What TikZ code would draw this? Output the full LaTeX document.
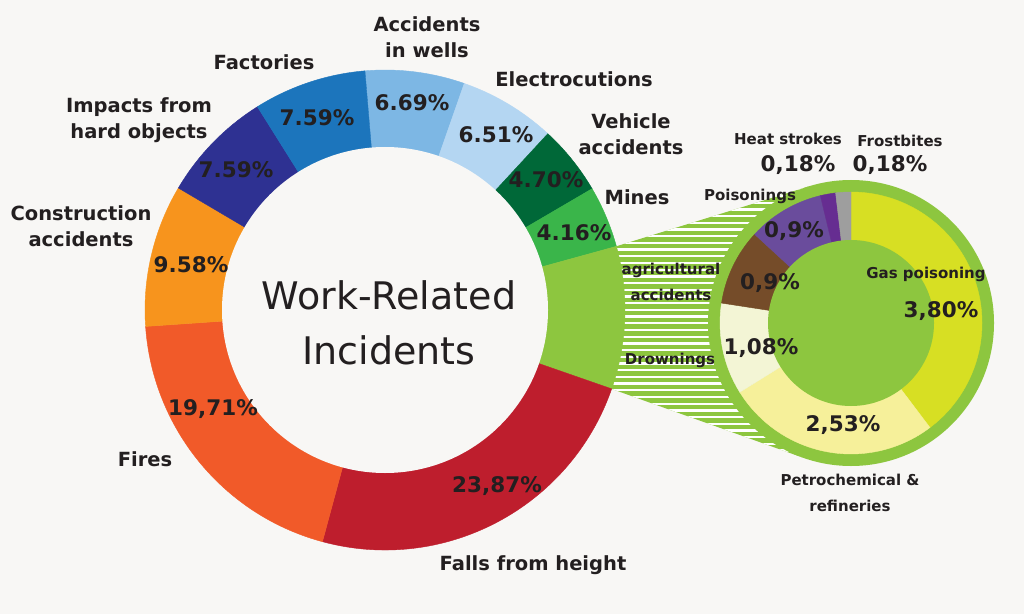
\documentclass[tikz,border=0pt]{standalone}
\usepackage{fontspec}
\setmainfont{DejaVu Sans}
\definecolor{bg}{HTML}{F8F7F5}
\definecolor{txt}{HTML}{231F20}
\definecolor{cfalls}{HTML}{BE1E2D}
\definecolor{cfires}{HTML}{F15A29}
\definecolor{cconstr}{HTML}{F7941D}
\definecolor{cimpact}{HTML}{2E3192}
\definecolor{cfactory}{HTML}{1C75BC}
\definecolor{cwells}{HTML}{7DB7E4}
\definecolor{celectro}{HTML}{B4D6F2}
\definecolor{cvehicle}{HTML}{006838}
\definecolor{cmines}{HTML}{3AB54A}
\definecolor{cother}{HTML}{8DC63F}
\definecolor{cgas}{HTML}{D7DF23}
\definecolor{cpetro}{HTML}{F6F09A}
\definecolor{cdrown}{HTML}{F3F5D5}
\definecolor{cagri}{HTML}{754C29}
\definecolor{cpois}{HTML}{6A4C9C}
\definecolor{cheat}{HTML}{662D91}
\definecolor{cfrost}{HTML}{9E9E9E}
\newcommand\wedgeM[3]{\fill[#1, draw=#1, line width=0.4pt] (M) -- ++(#2:240) arc[start angle=#2, end angle=#3, radius=240] -- cycle;}
\newcommand\wedgeS[3]{\fill[#1, draw=#1, line width=0.4pt] (S) -- ++(#2:131) arc[start angle=#2, end angle=#3, radius=131] -- cycle;}
\begin{document}
\begin{tikzpicture}[x=1pt,y=1pt,
  lab/.style={font=\bfseries\fontsize{19.5}{26}\selectfont, text=txt, align=center, inner sep=0pt},
  slab/.style={font=\bfseries\fontsize{15}{26}\selectfont, text=txt, align=center, inner sep=0pt},
  pct/.style={font=\bfseries\fontsize{21.5}{26}\selectfont, text=txt, inner sep=0pt},
  title/.style={font=\fontsize{38}{55}\selectfont, text=txt, align=center, inner sep=0pt}]
\useasboundingbox (0,0) rectangle (1024,614);
\fill[bg] (0,0) rectangle (1024,614);
\coordinate (M) at (385,304);
\coordinate (S) at (851,291);
% hatched connector
\coordinate (P) at (616.38,367.73);
\coordinate (T1) at (808.5,427.5);
\coordinate (T2) at (802.6,156.45);
\coordinate (Q) at (611.65,225.08);
\fill[cother] (P) -- (T1) -- (S) -- (T2) -- (Q) -- cycle;
\begin{scope}
\clip (P) -- (T1) -- (S) -- (T2) -- (Q) -- cycle;
\foreach \i in {0,...,45} {
  \pgfmathsetmacro{\yy}{150+6.7*\i}
  \draw[white, line width=2.3pt] (600,\yy) -- (840,\yy);
}
\end{scope}
% main donut
\wedgeM{cwells}{94.8}{70.72}
\wedgeM{celectro}{70.72}{47.28}
\wedgeM{cvehicle}{47.28}{30.36}
\wedgeM{cmines}{30.36}{15.38}
\wedgeM{cother}{15.38}{-19.18}
\wedgeM{cfalls}{-19.18}{-105.11}
\wedgeM{cfires}{-105.11}{-176.07}
\wedgeM{cconstr}{-176.07}{-210.56}
\wedgeM{cimpact}{-210.56}{-237.88}
\wedgeM{cfactory}{-237.88}{-265.2}
\fill[bg] (M) circle (163);
% small donut
\fill[cother] (S) circle (143);
\wedgeS{cgas}{90}{-52.95}
\wedgeS{cpetro}{-52.95}{-148.12}
\wedgeS{cdrown}{-148.12}{-188.75}
\wedgeS{cagri}{-188.75}{-222.61}
\wedgeS{cpois}{-222.61}{-256.47}
\wedgeS{cheat}{-256.47}{-263.24}
\wedgeS{cfrost}{-263.24}{-270}
\fill[cother] (S) circle (83);
% title
\node[title] (ttl) at (389,291) {Work-Related\\Incidents};
% main labels
\node[lab] (lwells) at (427,577) {Accidents\\in wells};
\node[lab] (lfact) at (264,552) {Factories};
\node[lab] (limp) at (139,494) {Impacts from\\hard objects};
\node[lab] (lcons) at (81,388) {Construction\\accidents};
\node[lab] (lfires) at (145,155) {Fires};
\node[lab] (lfalls) at (533,49) {Falls from height};
\node[lab] (lelec) at (574,535) {Electrocutions};
\node[lab] (lveh) at (631,480) {Vehicle\\accidents};
\node[lab] (lmines) at (637,417) {Mines};
% main percents
\node[pct] (p958) at (191,349) {9.58\%};
\node[pct] (p759a) at (236,444) {7.59\%};
\node[pct] (p759b) at (317,496) {7.59\%};
\node[pct] (p669) at (412,511) {6.69\%};
\node[pct] (p651) at (496,479) {6.51\%};
\node[pct] (p470) at (546,434) {4.70\%};
\node[pct] (p416) at (574,381) {4.16\%};
\node[pct] (p1971) at (213,205) {19,71\%};
\node[pct] (p2387) at (497,128) {23,87\%};
% small donut labels
\node[slab] (lheat) at (788,475) {Heat strokes};
\node[pct] (pheat) at (798,449) {0,18\%};
\node[slab] (lfrost) at (900,473) {Frostbites};
\node[pct] (pfrost) at (890,449) {0,18\%};
\node[slab] (lpois) at (750,418) {Poisonings};
\node[slab] (lagri) at (671,332) {agricultural\\accidents};
\node[slab] (ldrown) at (670,254) {Drownings};
\node[slab] (lgas) at (926,340) {Gas poisoning};
\node[slab] (lpetro) at (850,121) {Petrochemical \&\\refineries};
\node[pct] (p380) at (941,303) {3,80\%};
\node[pct] (p253) at (843,189) {2,53\%};
\node[pct] (p108) at (761,266) {1,08\%};
\node[pct] (p09b) at (770,331) {0,9\%};
\node[pct] (p09p) at (794,383) {0,9\%};
\end{tikzpicture}
\end{document}
